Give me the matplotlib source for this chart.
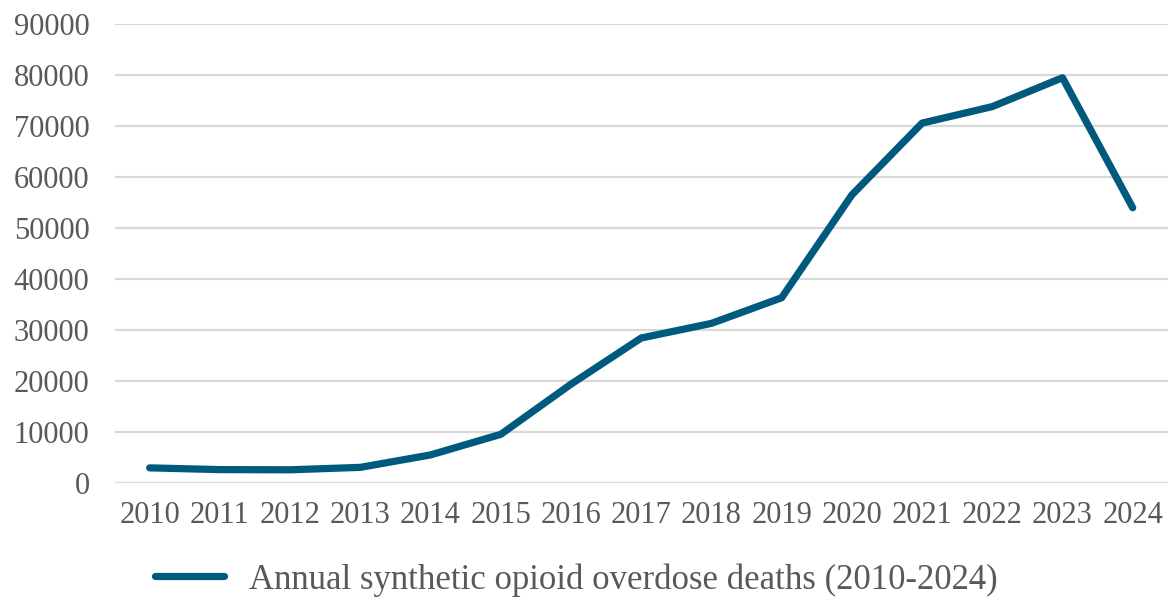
import matplotlib
matplotlib.use("Agg")
import matplotlib.pyplot as plt

years = ["2010", "2011", "2012", "2013", "2014", "2015", "2016", "2017",
         "2018", "2019", "2020", "2021", "2022", "2023", "2024"]
deaths = [3007, 2666, 2628, 3105, 5544, 9580, 19413, 28466,
          31335, 36359, 56516, 70601, 73838, 79500, 54000]
yticks = list(range(0, 90001, 10000))
series_label = "Annual synthetic opioid overdose deaths (2010-2024)"

line_color = "#005a7e"
text_color = "#595959"
grid_color = "#d9d9d9"

plt.rcParams["font.family"] = ["Liberation Serif", "DejaVu Serif"]

fig = plt.figure(figsize=(11.69, 6.04), dpi=100)
ax = fig.add_axes([0.098, 0.2, 0.901, 0.76])

x = list(range(len(years)))
ax.plot(x, deaths, color=line_color, linewidth=5.2, solid_capstyle="round",
        solid_joinstyle="round", label=series_label, zorder=3)

ax.set_xlim(-0.5, len(years) - 0.5)
ax.set_ylim(0, 90000)
ax.set_yticks(yticks)
ax.set_yticklabels([str(v) for v in yticks])
ax.set_xticks(x)
ax.set_xticklabels(years)

ax.grid(axis="y", color=grid_color, linewidth=1.6, zorder=0)
ax.set_axisbelow(True)
for s in ax.spines.values():
    s.set_visible(False)
ax.tick_params(axis="both", length=0, labelsize=22, labelcolor=text_color)
ax.tick_params(axis="x", pad=13)
ax.tick_params(axis="y", pad=18)

leg = fig.legend(loc="center", bbox_to_anchor=(0.493, 0.04), frameon=False,
                 fontsize=25, handlelength=2.0, handletextpad=0.72)
for t in leg.get_texts():
    t.set_color(text_color)

fig.savefig("out.png", dpi=100, facecolor="white")
